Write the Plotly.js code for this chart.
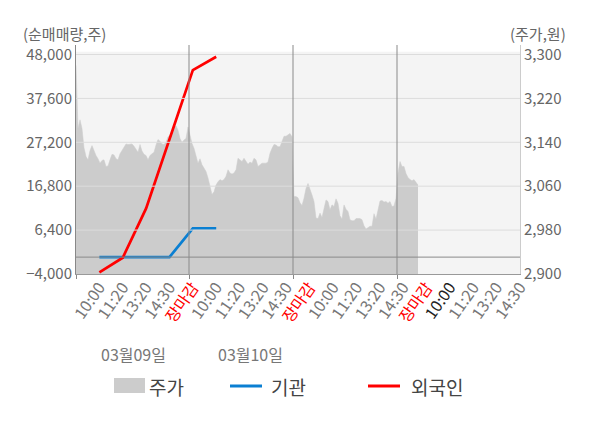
<!DOCTYPE html>
<html>
<head>
<meta charset="utf-8">
<script src="https://cdn.plot.ly/plotly-3.0.1.min.js"></script>
<style>
html,body{margin:0;padding:0;background:#fff;}
#chart{width:600px;height:428px;}
</style>
</head>
<body>
<div id="chart"></div>
<script>
// ---- data ----
const timeLabels = ['10:00','11:20','13:20','14:30','장마감',
                    '10:00','11:20','13:20','14:30','장마감',
                    '10:00','11:20','13:20','14:30','장마감',
                    '10:00','11:20','13:20','14:30'];
const dateLabels = ['03월09일','03월10일'];
const foreign = [-3600, -150, 11540, 27720, 44300, 47460];
const institution = [0, 0, 0, 0, 6800, 6800];

const priceDay1 = [3280,3165,3181,3165,3130,3114,3108,3125,3134,3124,3116,3110,3102,3107,3108,3096,3097,3108,3118,3117,
                   3110,3108,3119,3125,3131,3137,3136,3137,3137,3133,3127,3122,3136,3124,3118,3116,3108,3116,3119,3122,
                   3135,3145,3142,3137,3136,3140,3150,3153,3162,3168,3170,3162,3147,3140,3144,3147,3168];
const priceDay2 = [3153,3138,3129,3114,3102,3110,3099,3093,3087,3075,3062,3045,3050,3062,3068,3072,3070,3072,3078,3090,
                   3084,3082,3084,3090,3111,3108,3105,3111,3106,3100,3104,3102,3111,3108,3096,3099,3102,3102,3102,3104,
                   3120,3129,3136,3135,3132,3132,3142,3151,3151,3153,3156,3150];
const priceDay3 = [3041,3041,3039,3030,3025,3038,3056,3065,3056,3044,3032,3002,3001,3011,3003,3020,3035,3032,3017,3026,
                   3023,3037,3029,3006,3000,3026,3018,3014,2999,2997,2997,3001,3001,3001,2999,2988,2982,2984,2987,2987,
                   3010,3000,3020,3033,3034,3031,3032,3029,3032,3023,3024,3038];
const priceDay4 = [3084,3105,3096,3096,3083,3076,3072,3070,3072,3066,3062];

const leftTicks = [-4000, 6400, 16800, 27200, 37600, 48000];
const rightTicks = [2900, 2980, 3060, 3140, 3220, 3300];
const legendNames = ['주가','기관','외국인'];

// ---- derived ----
const priceDays = [priceDay1, priceDay2, priceDay3, priceDay4];
const price = [].concat(...priceDays);
const priceX = price.map((_, i) => i);
const sessionStarts = [];
let acc = 0;
priceDays.forEach((d, k) => { if (k > 0) sessionStarts.push(acc); acc += d.length; });
const sepVals = sessionStarts.map(s => s - 0.5);

const catPos = timeLabels.map((_, i) => i + 1);
const flowX = foreign.map((_, i) => catPos[i]);
const tickText = timeLabels.map((t, i) => {
  if (t === '장마감') return '<span style="color:#ff0000">' + t + '</span>';
  if (i === 15) return '<span style="color:#222222">' + t + '</span>';
  return t;
});
const dayStartCats = [];
timeLabels.forEach((t, i) => { if (t === '10:00') dayStartCats.push(catPos[i]); });

const FONT = '"Noto Sans CJK KR", "Noto Sans", sans-serif';
const RED = '#ff0000', BLUE = '#0a7fd2', GRAY = '#cccccc';

const traces = [
  {
    x: priceX, y: price, xaxis: 'x', yaxis: 'y', type: 'scatter', mode: 'lines',
    fill: 'tozeroy', fillcolor: GRAY, line: {color: GRAY, width: 0.5}, name: legendNames[0], hoverinfo: 'skip'
  },
  {
    x: flowX, y: institution, xaxis: 'x2', yaxis: 'y2', type: 'scatter', mode: 'lines',
    line: {color: BLUE, width: 2.7}, name: legendNames[1]
  },
  {
    x: flowX, y: foreign, xaxis: 'x2', yaxis: 'y2', type: 'scatter', mode: 'lines',
    line: {color: RED, width: 2.7}, name: legendNames[2]
  }
];

// plot area: x 76..520, y 45..274
const P = {l: 76, r: 520, t: 45, b: 274};
const px2x = v => (v - P.l) / (P.r - P.l);
const px2y = v => (P.b - v) / (P.b - P.t);

const shapes = [
  {type: 'rect', xref: 'paper', yref: 'paper', x0: 0, x1: 1, y0: 0, y1: px2y(51.7),
   fillcolor: '#f4f4f4', line: {width: 0}, layer: 'below'}
];
// horizontal grid lines (drawn over the price area like the reference)
leftTicks.slice(1).forEach(v => shapes.push({
  type: 'line', xref: 'paper', yref: 'y2', x0: 0, x1: 1, y0: v, y1: v,
  line: {color: '#dcdcdc', width: 1}, layer: 'above'
}));
// zero line of the net-trade axis
shapes.push({type: 'line', xref: 'paper', yref: 'y2', x0: 0, x1: 1, y0: 0, y1: 0,
  line: {color: '#8a8a8a', width: 1}, layer: 'above'});
// session separators
sepVals.forEach(v => shapes.push({
  type: 'line', xref: 'x', yref: 'paper', x0: v, x1: v, y0: 0, y1: 1,
  line: {color: '#8a8a8a', width: 1}, layer: 'above'
}));
// legend
shapes.push(
  {type: 'rect', xref: 'paper', yref: 'paper', x0: px2x(114), x1: px2x(145), y0: px2y(393), y1: px2y(378),
   fillcolor: GRAY, line: {width: 0}},
  {type: 'line', xref: 'paper', yref: 'paper', x0: px2x(230), x1: px2x(262), y0: px2y(386), y1: px2y(386),
   line: {color: BLUE, width: 3}},
  {type: 'line', xref: 'paper', yref: 'paper', x0: px2x(368), x1: px2x(400), y0: px2y(386), y1: px2y(386),
   line: {color: RED, width: 3}}
);

const layout = {
  width: 600, height: 428,
  margin: {l: P.l, r: 600 - P.r, t: P.t, b: 428 - P.b, pad: 0},
  paper_bgcolor: '#ffffff', plot_bgcolor: '#ffffff',
  font: {family: FONT, color: '#666666', size: 14},
  showlegend: false,
  xaxis: {
    range: [0, 222], tickmode: 'array', tickvals: [0].concat(sepVals), showticklabels: false,
    ticks: 'outside', ticklen: 4, tickcolor: '#888888',
    showgrid: false, zeroline: false, showline: true, linecolor: '#999999', linewidth: 1, fixedrange: true
  },
  yaxis: {
    side: 'right', range: [2900, 3317.3], tickmode: 'array', tickvals: rightTicks, tickformat: ',d', ticks: '',
    showgrid: false, zeroline: false, showline: true, linecolor: '#cccccc', linewidth: 1,
    tickfont: {family: FONT, size: 15, color: '#666666'}, fixedrange: true
  },
  xaxis2: {
    overlaying: 'x', anchor: 'y2', side: 'bottom', range: [0, timeLabels.length],
    tickmode: 'array', tickvals: catPos, ticktext: tickText,
    tickangle: -55, ticks: '', showgrid: false, zeroline: false, showline: false,
    tickfont: {family: FONT, size: 16, color: '#777777'}, fixedrange: true
  },
  yaxis2: {
    overlaying: 'y', side: 'left', anchor: 'x2', range: [-4000, 50250], tickmode: 'array', tickvals: leftTicks,
    tickformat: ',d', ticks: '', showgrid: false, zeroline: false,
    showline: true, linecolor: '#888888', linewidth: 1,
    tickfont: {family: FONT, size: 15, color: '#666666'}, fixedrange: true
  },
  shapes: shapes,
  annotations: [
    {text: '(순매매량,주)', xref: 'paper', yref: 'paper', x: px2x(21), y: px2y(33), xanchor: 'left', yanchor: 'middle',
     showarrow: false, font: {family: FONT, size: 15, color: '#666666'}},
    {text: '(주가,원)', xref: 'paper', yref: 'paper', x: px2x(568), y: px2y(33), xanchor: 'right', yanchor: 'middle',
     showarrow: false, font: {family: FONT, size: 15, color: '#666666'}},
    {text: legendNames[0], xref: 'paper', yref: 'paper', x: px2x(147), y: px2y(386), xanchor: 'left', yanchor: 'middle',
     showarrow: false, font: {family: FONT, size: 19, color: '#444444'}},
    {text: legendNames[1], xref: 'paper', yref: 'paper', x: px2x(269), y: px2y(386), xanchor: 'left', yanchor: 'middle',
     showarrow: false, font: {family: FONT, size: 19, color: '#444444'}},
    {text: legendNames[2], xref: 'paper', yref: 'paper', x: px2x(409), y: px2y(386), xanchor: 'left', yanchor: 'middle',
     showarrow: false, font: {family: FONT, size: 19, color: '#444444'}}
  ].concat(dateLabels.map((d, k) => ({
     text: d, xref: 'x2', yref: 'paper', x: dayStartCats[k], y: px2y(354), xanchor: 'left', yanchor: 'middle',
     showarrow: false, font: {family: FONT, size: 16, color: '#777777'}
  })))
};

Plotly.newPlot('chart', traces, layout, {staticPlot: true, displayModeBar: false});
</script>
</body>
</html>
